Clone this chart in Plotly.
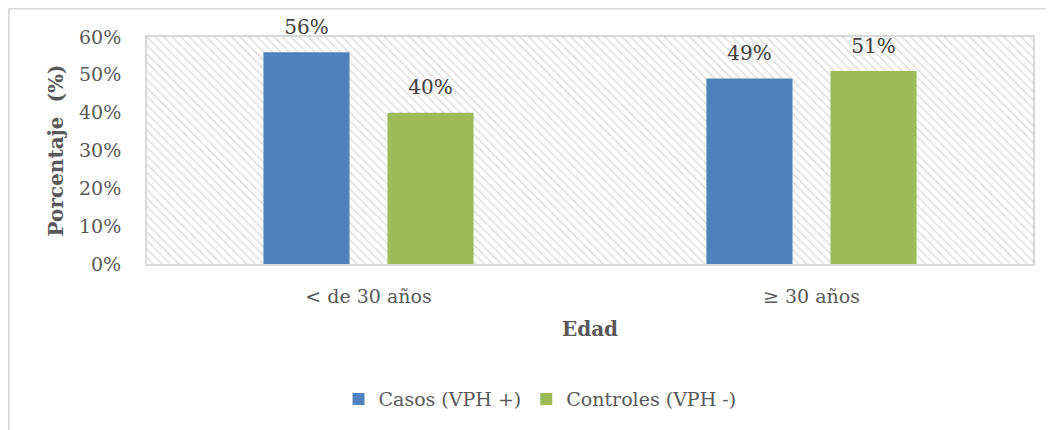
import plotly.graph_objects as go

# data
edades = ["< de 30 años", "≥ 30 años"]
casos = [0.56, 0.49]
controles = [0.40, 0.51]

series = ["Casos (VPH +)", "Controles (VPH -)"]
colores = ["#4F81BD", "#9BBB59"]

FONT = "DejaVu Serif"
GRIS = "#595959"
LINEA = "#D9D9D9"

fig = go.Figure()

# hatched background of the plot area (decoration, on the hidden base axes)
fig.add_trace(go.Bar(
    x=[0], y=[1], width=1,
    marker=dict(color="white", line=dict(width=0),
                pattern=dict(shape="\\", fgcolor="#C4C4C4", bgcolor="white",
                             size=6, solidity=0.3)),
    hoverinfo="skip", showlegend=False,
    xaxis="x", yaxis="y",
))

for i, (nombre, valores, color) in enumerate(zip(series, [casos, controles], colores)):
    fig.add_trace(go.Bar(
        x=edades, y=valores, name=nombre,
        marker=dict(color=color, line=dict(width=0)),
        offsetgroup=str(i), alignmentgroup="a",
        xaxis="x2", yaxis="y2",
    ))

# value labels, grouped like the bars
for i, valores in enumerate([casos, controles]):
    fig.add_trace(go.Scatter(
        x=edades, y=valores, mode="markers+text",
        text=[f"{v:.0%}" for v in valores], textposition="top center",
        textfont=dict(family=FONT, size=20, color="#404040"),
        marker=dict(size=20, opacity=0),
        offsetgroup=str(i), alignmentgroup="a",
        cliponaxis=False, showlegend=False, hoverinfo="skip",
        xaxis="x2", yaxis="y2",
    ))

# the page body adds an 8px offset, so the figure is 8px smaller and shifted
fig.update_layout(
    width=1046, height=422,
    margin=dict(l=139, r=21, t=29, b=166, autoexpand=False),
    paper_bgcolor="white", plot_bgcolor="white",
    font=dict(family=FONT, color=GRIS, size=19),
    barmode="group", bargap=0.44, bargroupgap=0.306,
    scattermode="group", scattergap=0.44,
    showlegend=True,
    legend=dict(orientation="h", x=0.4436, xanchor="center", y=-0.595, yanchor="middle",
                font=dict(family=FONT, size=19, color=GRIS),
                itemwidth=30, tracegroupgap=0, traceorder="normal"),
    xaxis=dict(range=[-0.5, 0.5], visible=False, fixedrange=True),
    yaxis=dict(range=[0, 1], visible=False, fixedrange=True),
    xaxis2=dict(
        overlaying="x", type="category", automargin=False,
        tickson="boundaries", showgrid=True, gridcolor=LINEA, gridwidth=2,
        showline=True, linecolor=LINEA, linewidth=2, mirror=True,
        ticks="", ticklabelstandoff=14,
        tickfont=dict(family=FONT, size=19, color=GRIS),
        title=dict(text="<b>Edad</b>", standoff=16,
                   font=dict(family=FONT, size=20, color=GRIS)),
    ),
    yaxis2=dict(
        overlaying="y", range=[0, 0.6], dtick=0.1, tickformat=".0%", automargin=False,
        showgrid=True, gridcolor=LINEA, gridwidth=2,
        showline=True, linecolor=LINEA, linewidth=2, mirror=True,
        zeroline=False, ticks="", ticklabelstandoff=20,
        tickfont=dict(family=FONT, size=19, color=GRIS),
        title=dict(text="<b>Porcentaje  (%)</b>", standoff=10,
                   font=dict(family=FONT, size=20, color=GRIS)),
    ),
    shapes=[
        # outer chart border (top and left edges of the figure)
        dict(type="line", xref="paper", yref="paper", x0=-0.156, x1=1.03,
             y0=1.1255, y1=1.1255, line=dict(color=LINEA, width=2)),
        dict(type="line", xref="paper", yref="paper", x0=-0.156, x1=-0.156,
             y0=1.1255, y1=-0.74, line=dict(color=LINEA, width=2)),
    ],
)

fig.write_html("out.html")
